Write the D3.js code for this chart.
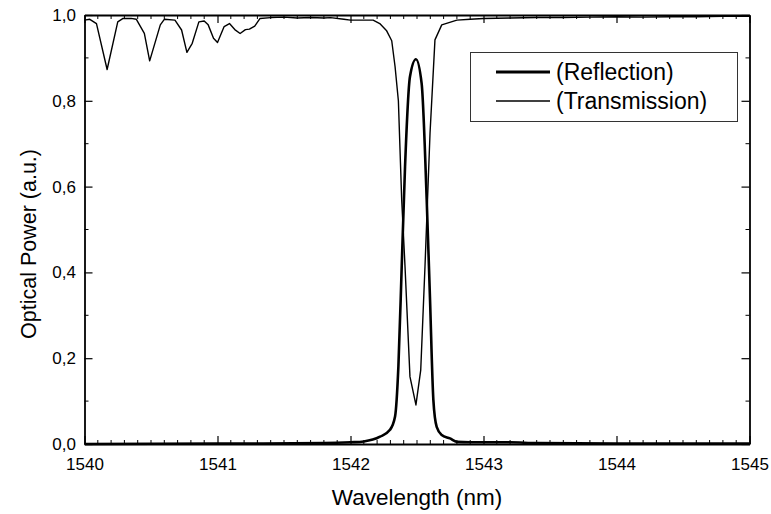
<!DOCTYPE html>
<html><head><meta charset="utf-8">
<script src="https://cdn.jsdelivr.net/npm/d3@7"></script>
<style>body{margin:0;background:#fff}svg{display:block}text{font-family:"Liberation Sans",Arial,sans-serif;fill:#000}</style>
</head><body><svg id="c" width="771" height="514"></svg>
<script>
const transWl = [1540.00,1540.04,1540.09,1540.17,1540.25,1540.29,1540.35,1540.39,1540.45,1540.49,1540.57,1540.60,1540.68,1540.73,1540.77,1540.81,1540.86,1540.90,1540.93,1540.97,1541.00,1541.05,1541.09,1541.13,1541.17,1541.21,1541.24,1541.28,1541.32,1541.40,1541.50,1541.60,1541.70,1541.80,1541.85,1541.95,1542.00,1542.10,1542.17,1542.22,1542.27,1542.31,1542.335,1542.36,1542.385,1542.41,1542.447,1542.492,1542.528,1542.56,1542.598,1542.635,1542.686,1542.80,1542.90,1543.00,1543.20,1543.40,1543.60,1543.80,1544.00,1544.20,1544.40,1544.60,1544.80,1545.00];
const transVal = [0.988,0.990,0.980,0.873,0.984,0.992,0.992,0.990,0.957,0.893,0.977,0.990,0.988,0.965,0.913,0.934,0.984,0.986,0.977,0.946,0.936,0.973,0.980,0.966,0.957,0.966,0.967,0.974,0.992,0.994,0.995,0.993,0.994,0.993,0.994,0.990,0.988,0.988,0.988,0.980,0.964,0.940,0.880,0.800,0.569,0.413,0.157,0.091,0.172,0.413,0.725,0.942,0.977,0.988,0.990,0.992,0.993,0.994,0.994,0.995,0.996,0.995,0.996,0.996,0.997,0.997];
const reflWl = [1540.00,1541.00,1541.80,1542.00,1542.10,1542.222,1542.297,1542.335,1542.36,1542.385,1542.41,1542.447,1542.492,1542.535,1542.573,1542.598,1542.623,1542.648,1542.686,1542.748,1542.80,1542.90,1543.00,1543.20,1543.40,1544.00,1545.00];
const reflVal = [0.000,0.001,0.002,0.004,0.006,0.017,0.033,0.064,0.180,0.413,0.646,0.856,0.897,0.840,0.569,0.336,0.103,0.040,0.021,0.013,0.005,0.004,0.004,0.004,0.002,0.001,0.001];
const xTicks = [1540,1541,1542,1543,1544,1545];
const yTicks = [0,0.2,0.4,0.6,0.8,1.0];
const legendLabels = ["(Reflection)","(Transmission)"];

const svg = d3.select("#c");
const L=84.5, R=749.5, T=15, B=444;
const x = d3.scaleLinear().domain([1540,1545]).range([L,R]);
const y = d3.scaleLinear().domain([0,1]).range([B,T]);
const fmt = d => d3.format(".1f")(d).replace(".", ",");

const xMinor = d3.range(1540,1545.001,0.1).filter(v=>Math.abs(v-Math.round(v))>1e-6);
const yMinor = d3.range(0,1.001,0.1).filter(v=>Math.abs(v*5-Math.round(v*5))>1e-6);

// curves
const transData = transWl.map((w,i)=>[w,transVal[i]]);
const reflData = reflWl.map((w,i)=>[w,reflVal[i]]);
svg.append("path").datum(transData)
  .attr("d",d3.line().x(d=>x(d[0])).y(d=>y(d[1])).curve(d3.curveLinear))
  .attr("fill","none").attr("stroke","#000").attr("stroke-width",1.4).attr("stroke-linejoin","round");
svg.append("path").datum(reflData)
  .attr("d",d3.line().x(d=>x(d[0])).y(d=>y(d[1])).curve(d3.curveMonotoneX))
  .attr("fill","none").attr("stroke","#000").attr("stroke-width",2.6).attr("stroke-linejoin","round");

// bottom axis
const gB = svg.append("g").attr("transform",`translate(0,${B})`)
  .call(d3.axisBottom(x).tickValues(xTicks).tickFormat(d3.format("d")).tickSizeInner(-8).tickSizeOuter(0).tickPadding(14));
gB.selectAll(".tick text").attr("font-size",17);
gB.append("g").selectAll("line").data(xMinor).join("line")
  .attr("x1",d=>x(d)).attr("x2",d=>x(d)).attr("y1",0).attr("y2",-4).attr("stroke","#000");
// top axis
const gT = svg.append("g").attr("transform",`translate(0,${T})`)
  .call(d3.axisTop(x).tickValues(xTicks).tickFormat("").tickSizeInner(-8).tickSizeOuter(0));
gT.append("g").selectAll("line").data(xMinor).join("line")
  .attr("x1",d=>x(d)).attr("x2",d=>x(d)).attr("y1",0).attr("y2",4).attr("stroke","#000");
// left axis
const gL = svg.append("g").attr("transform",`translate(${L},0)`)
  .call(d3.axisLeft(y).tickValues(yTicks).tickFormat(fmt).tickSizeInner(-8).tickSizeOuter(0).tickPadding(8.5));
gL.selectAll(".tick text").attr("font-size",17);
gL.append("g").selectAll("line").data(yMinor).join("line")
  .attr("y1",d=>y(d)).attr("y2",d=>y(d)).attr("x1",0).attr("x2",4).attr("stroke","#000");
// right axis
const gR = svg.append("g").attr("transform",`translate(${R},0)`)
  .call(d3.axisRight(y).tickValues(yTicks).tickFormat("").tickSizeInner(-8).tickSizeOuter(0));
gR.append("g").selectAll("line").data(yMinor).join("line")
  .attr("y1",d=>y(d)).attr("y2",d=>y(d)).attr("x1",0).attr("x2",-4).attr("stroke","#000");

svg.selectAll(".domain").attr("stroke","#000").attr("stroke-width",1.8);
svg.selectAll(".tick line").attr("stroke","#000").attr("stroke-width",1.2);

// legend
const lg = svg.append("g");
lg.append("rect").attr("x",470.5).attr("y",52.5).attr("width",267).attr("height",69)
  .attr("fill","#fff").attr("stroke","#333").attr("stroke-width",1);
const widths=[2.8,1.4], ly=[72,101];
legendLabels.forEach((t,i)=>{
  lg.append("line").attr("x1",496).attr("x2",550).attr("y1",ly[i]).attr("y2",ly[i])
    .attr("stroke","#000").attr("stroke-width",widths[i]);
  lg.append("text").attr("x",556).attr("y",ly[i]).attr("dy","0.36em").attr("font-size",23).text(t);
});

// axis titles
svg.append("text").attr("x",(L+R)/2).attr("y",505).attr("text-anchor","middle").attr("font-size",22.5).text("Wavelength (nm)");
svg.append("text").attr("transform",`translate(36,244) rotate(-90)`).attr("text-anchor","middle").attr("font-size",21.5).text("Optical Power (a.u.)");
</script></body></html>
